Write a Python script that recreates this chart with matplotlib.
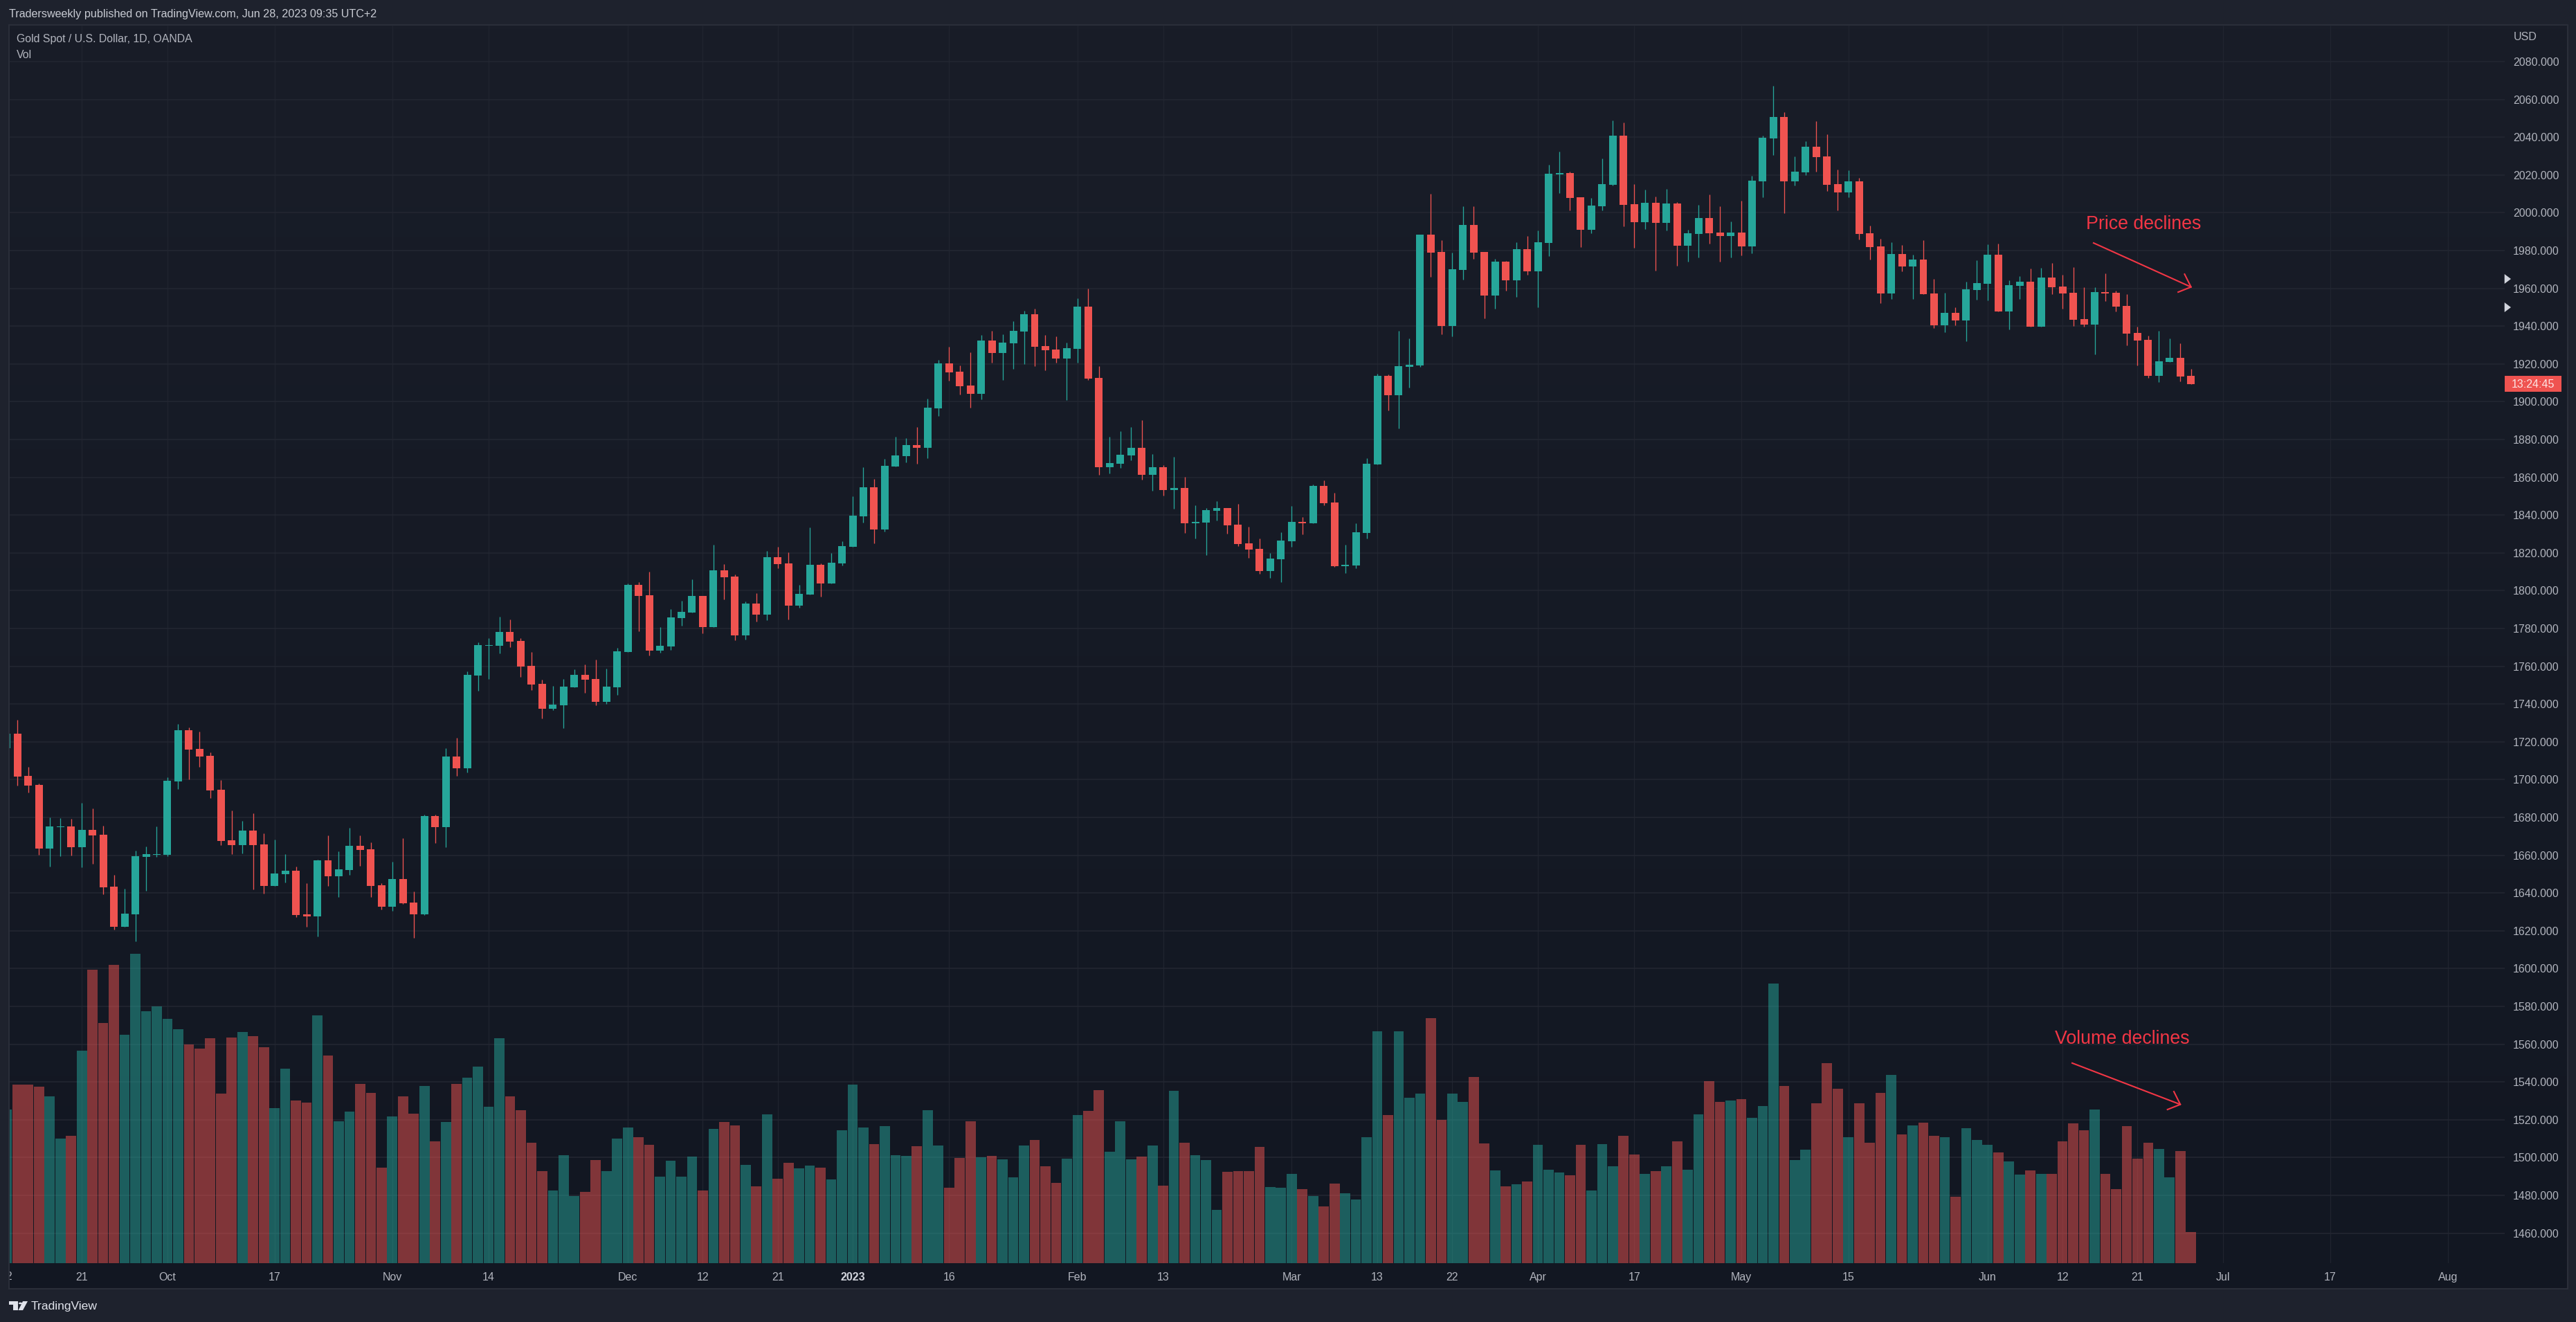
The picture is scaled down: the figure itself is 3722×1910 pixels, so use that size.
#!/usr/bin/env python3
import matplotlib
matplotlib.use('Agg')
import matplotlib.pyplot as plt
import numpy as np
from matplotlib.colors import LinearSegmentedColormap
from matplotlib.patches import Circle, Polygon, Rectangle

opens = [
    1716.6, 1724.3, 1702.0, 1697.2, 1663.5, 1674.9, 1675.2, 1664.2, 1673.4, 1670.8,
    1643.4, 1622.1, 1628.7, 1659.1, 1660.2, 1660.2, 1699.0, 1726.1, 1716.3, 1712.6,
    1694.6, 1667.9, 1665.3, 1673.0, 1665.7, 1643.7, 1650.0, 1651.8, 1628.7, 1627.6,
    1657.3, 1648.9, 1652.1, 1665.0, 1663.1, 1644.1, 1632.7, 1647.4, 1634.9, 1628.7,
    1680.7, 1674.9, 1712.2, 1706.0, 1755.0, 1770.8, 1770.8, 1778.1, 1773.3, 1760.2,
    1750.6, 1737.4, 1739.3, 1748.8, 1755.4, 1753.2, 1741.1, 1748.8, 1767.5, 1803.0,
    1797.5, 1768.2, 1770.4, 1785.4, 1788.4, 1797.2, 1780.7, 1810.7, 1807.4, 1776.3,
    1793.1, 1787.3, 1817.7, 1814.4, 1792.0, 1797.9, 1813.6, 1803.7, 1814.4, 1823.1,
    1839.3, 1854.6, 1832.3, 1865.6, 1871.1, 1877.0, 1875.5, 1896.4, 1920.2, 1915.8,
    1908.5, 1904.1, 1932.3, 1925.7, 1930.8, 1937.1, 1946.2, 1929.4, 1927.5, 1922.8,
    1927.9, 1950.2, 1912.5, 1865.3, 1867.1, 1871.5, 1875.5, 1861.2, 1865.3, 1853.2,
    1854.3, 1835.6, 1836.0, 1842.2, 1843.7, 1834.9, 1825.0, 1822.0, 1810.3, 1816.5,
    1826.1, 1836.3, 1835.6, 1855.4, 1846.6, 1812.9, 1813.3, 1830.5, 1866.7, 1913.6,
    1903.4, 1918.5, 1919.2, 1988.4, 1979.2, 1940.0, 1969.7, 1993.5, 1979.2, 1956.2,
    1974.0, 1964.2, 1980.6, 1969.0, 1983.9, 2020.1, 2020.9, 2008.1, 1991.0, 2003.4,
    2014.7, 2040.7, 2004.5, 1995.0, 2005.2, 1994.6, 2004.8, 1982.4, 1988.8, 1997.2,
    1989.5, 1987.7, 1989.5, 1982.1, 2016.5, 2039.3, 2050.6, 2016.6, 2021.3, 2034.9,
    2029.7, 2015.1, 2010.7, 2016.6, 1989.1, 1982.1, 1957.2, 1978.1, 1971.5, 1975.2,
    1957.2, 1940.4, 1947.0, 1942.9, 1959.1, 1962.3, 1977.7, 1947.7, 1961.2, 1963.4,
    1939.6, 1965.6, 1960.9, 1957.6, 1943.7, 1940.7, 1957.9, 1957.6, 1950.6, 1936.3,
    1932.7, 1913.6, 1921.0, 1923.2, 1913.6]

closes = [
    1724.3, 1701.6, 1696.8, 1663.5, 1675.2, 1675.2, 1664.2, 1673.4, 1670.5, 1643.0,
    1622.1, 1629.1, 1659.5, 1660.6, 1660.6, 1699.4, 1726.1, 1715.9, 1712.2, 1694.3,
    1667.5, 1665.3, 1673.0, 1665.3, 1643.7, 1650.3, 1651.8, 1628.3, 1627.6, 1657.3,
    1648.9, 1652.5, 1665.0, 1662.8, 1643.7, 1632.7, 1647.4, 1634.6, 1628.7, 1680.7,
    1674.9, 1712.2, 1706.0, 1755.4, 1771.1, 1771.1, 1778.1, 1773.0, 1759.8, 1750.3,
    1737.4, 1739.6, 1749.2, 1755.4, 1752.8, 1741.1, 1749.2, 1767.9, 1803.0, 1797.2,
    1768.2, 1770.8, 1785.8, 1788.7, 1797.2, 1780.7, 1810.7, 1807.0, 1776.3, 1793.1,
    1787.3, 1817.7, 1814.0, 1792.0, 1798.3, 1813.6, 1803.7, 1814.7, 1823.5, 1839.6,
    1854.6, 1832.3, 1866.0, 1871.5, 1877.0, 1875.5, 1896.8, 1920.2, 1915.5, 1908.1,
    1904.1, 1932.3, 1925.7, 1931.2, 1937.4, 1946.2, 1929.0, 1927.2, 1922.8, 1928.3,
    1950.2, 1912.2, 1865.3, 1867.5, 1871.9, 1875.5, 1861.2, 1865.3, 1853.2, 1854.3,
    1835.6, 1836.3, 1842.6, 1843.7, 1834.5, 1824.6, 1821.7, 1810.3, 1816.9, 1826.4,
    1836.3, 1835.6, 1855.4, 1846.2, 1812.9, 1813.6, 1830.8, 1867.1, 1913.6, 1903.4,
    1918.8, 1919.6, 1988.4, 1978.8, 1940.0, 1970.0, 1993.5, 1978.8, 1956.2, 1974.0,
    1964.2, 1980.6, 1969.0, 1984.3, 2020.5, 2020.9, 2007.8, 1991.0, 2003.7, 2015.0,
    2040.7, 2004.1, 1995.0, 2005.2, 1994.6, 2004.8, 1982.4, 1989.2, 1997.2, 1989.2,
    1987.7, 1989.5, 1982.1, 2016.9, 2039.6, 2050.6, 2016.6, 2021.7, 2034.9, 2029.4,
    2014.7, 2010.7, 2016.6, 1988.7, 1981.8, 1957.2, 1978.1, 1971.5, 1975.2, 1956.9,
    1940.4, 1947.0, 1942.9, 1959.4, 1962.7, 1977.7, 1947.7, 1961.6, 1963.4, 1939.6,
    1965.6, 1960.5, 1957.2, 1943.3, 1940.7, 1957.9, 1957.2, 1950.3, 1936.0, 1932.3,
    1913.6, 1921.3, 1923.2, 1913.3, 1909.2]

highs = [
    1726.0, 1731.6, 1706.7, 1697.9, 1680.0, 1679.6, 1679.3, 1687.7, 1684.7, 1675.6,
    1649.6, 1642.3, 1662.3, 1664.6, 1675.2, 1701.2, 1729.4, 1727.6, 1725.4, 1714.4,
    1699.8, 1683.6, 1678.2, 1682.2, 1671.6, 1668.3, 1660.6, 1654.0, 1645.2, 1657.6,
    1670.5, 1662.0, 1674.5, 1670.5, 1666.8, 1645.2, 1656.5, 1669.0, 1640.8, 1681.4,
    1681.4, 1716.6, 1722.1, 1757.3, 1772.6, 1774.8, 1786.2, 1784.7, 1774.8, 1767.5,
    1752.8, 1749.5, 1753.2, 1758.3, 1760.9, 1763.5, 1758.7, 1769.7, 1803.7, 1804.5,
    1810.0, 1780.7, 1790.2, 1794.6, 1806.0, 1797.2, 1824.3, 1814.0, 1808.5, 1794.2,
    1798.6, 1821.0, 1823.3, 1820.2, 1803.0, 1833.4, 1814.4, 1819.8, 1826.1, 1849.9,
    1865.3, 1859.0, 1869.7, 1881.4, 1880.7, 1886.5, 1901.5, 1922.0, 1929.0, 1919.1,
    1926.1, 1935.2, 1937.4, 1935.6, 1942.6, 1948.1, 1949.1, 1935.2, 1934.5, 1931.2,
    1954.6, 1959.8, 1918.7, 1881.4, 1884.3, 1886.5, 1890.2, 1872.2, 1866.4, 1870.8,
    1860.1, 1845.1, 1843.7, 1847.3, 1843.7, 1845.9, 1833.8, 1827.5, 1819.8, 1830.8,
    1844.8, 1838.9, 1856.1, 1858.3, 1851.7, 1824.2, 1835.6, 1870.0, 1914.7, 1914.3,
    1937.4, 1933.4, 1988.4, 2009.9, 1985.3, 1978.8, 2003.4, 2003.4, 1979.2, 1975.5,
    1974.4, 1984.3, 1987.7, 1990.6, 2025.4, 2032.4, 2021.6, 2008.1, 2007.8, 2028.7,
    2048.8, 2047.7, 2015.0, 2012.1, 2008.5, 2012.5, 2005.6, 1991.0, 2004.1, 2009.6,
    2003.4, 1995.4, 2006.3, 2019.4, 2040.7, 2067.1, 2053.2, 2029.7, 2037.8, 2048.4,
    2041.5, 2022.8, 2022.4, 2018.4, 1993.1, 1986.1, 1984.3, 1982.9, 1977.7, 1985.4,
    1964.9, 1957.6, 1949.9, 1963.4, 1974.8, 1983.2, 1983.6, 1964.2, 1966.4, 1970.4,
    1970.8, 1973.3, 1967.1, 1971.1, 1960.5, 1960.5, 1967.8, 1958.7, 1956.8, 1939.6,
    1934.9, 1937.4, 1933.4, 1930.8, 1917.3]

lows = [
    1712.0, 1696.8, 1693.2, 1660.2, 1654.0, 1659.5, 1659.8, 1653.6, 1655.4, 1639.3,
    1620.6, 1622.1, 1614.4, 1641.2, 1659.1, 1659.5, 1695.0, 1700.1, 1706.7, 1690.2,
    1665.3, 1660.6, 1660.9, 1641.9, 1639.7, 1643.7, 1645.6, 1627.2, 1622.1, 1617.0,
    1643.7, 1637.9, 1649.6, 1654.3, 1637.9, 1631.3, 1630.5, 1634.2, 1616.2, 1628.3,
    1666.4, 1664.2, 1702.0, 1703.8, 1747.0, 1753.2, 1766.8, 1770.0, 1754.3, 1747.3,
    1732.3, 1736.7, 1727.2, 1748.8, 1745.9, 1739.3, 1740.0, 1744.8, 1767.5, 1778.5,
    1765.7, 1767.1, 1768.6, 1781.4, 1788.4, 1777.4, 1780.7, 1795.3, 1773.7, 1774.1,
    1783.6, 1784.3, 1811.8, 1784.7, 1790.9, 1797.9, 1796.8, 1803.7, 1813.4, 1823.1,
    1836.0, 1825.0, 1831.2, 1865.6, 1867.8, 1867.1, 1870.0, 1892.4, 1911.1, 1903.7,
    1896.8, 1901.2, 1920.6, 1911.4, 1917.3, 1919.8, 1918.7, 1916.5, 1920.6, 1900.8,
    1920.6, 1911.4, 1861.2, 1862.0, 1864.9, 1868.9, 1858.7, 1852.8, 1850.3, 1843.3,
    1830.5, 1827.5, 1818.7, 1837.1, 1830.1, 1823.5, 1817.3, 1808.9, 1806.7, 1804.5,
    1823.1, 1829.7, 1835.6, 1845.1, 1812.5, 1809.2, 1811.9, 1827.6, 1866.7, 1895.3,
    1885.9, 1907.4, 1918.5, 1966.0, 1935.6, 1934.5, 1964.6, 1975.5, 1944.0, 1949.1,
    1958.7, 1955.5, 1967.1, 1949.8, 1977.0, 2010.3, 2001.2, 1981.7, 1989.2, 2001.2,
    2014.3, 1992.8, 1981.3, 1991.4, 1969.3, 1990.6, 1971.9, 1974.0, 1976.2, 1983.5,
    1974.0, 1976.2, 1977.3, 1978.4, 2008.1, 2030.5, 1999.7, 2014.4, 2019.9, 2021.7,
    2011.4, 2001.2, 2008.1, 1985.8, 1975.2, 1952.1, 1954.3, 1968.9, 1954.3, 1956.9,
    1938.9, 1936.7, 1940.4, 1931.9, 1953.9, 1953.6, 1947.7, 1938.2, 1954.3, 1939.6,
    1939.6, 1956.9, 1949.2, 1940.0, 1939.6, 1925.0, 1953.2, 1947.7, 1929.7, 1919.1,
    1912.5, 1910.3, 1921.0, 1910.7, 1909.2]

volumes = [
    222, 258, 258, 255, 241, 180, 184, 307, 424, 347,
    431, 330, 447, 364, 371, 353, 338, 316, 310, 325,
    245, 326, 334, 328, 312, 224, 281, 235, 232, 358,
    300, 205, 219, 259, 246, 138, 212, 241, 216, 256,
    176, 204, 259, 268, 284, 226, 325, 241, 221, 174,
    133, 105, 156, 97, 103, 149, 133, 180, 196, 182,
    171, 125, 148, 125, 154, 105, 194, 204, 199, 142,
    111, 215, 122, 145, 137, 141, 138, 121, 192, 258,
    196, 172, 198, 156, 155, 169, 221, 170, 109, 152,
    205, 153, 155, 150, 124, 170, 178, 140, 116, 151,
    214, 220, 250, 161, 205, 150, 154, 170, 112, 249,
    174, 156, 149, 77, 132, 133, 133, 168, 110, 109,
    129, 107, 97, 82, 115, 101, 92, 182, 335, 214,
    335, 239, 245, 354, 207, 245, 233, 269, 173, 134,
    111, 114, 118, 171, 135, 131, 127, 171, 105, 172,
    140, 184, 157, 129, 133, 140, 176, 135, 215, 263,
    233, 235, 237, 210, 227, 404, 256, 149, 164, 231,
    289, 252, 182, 231, 174, 246, 272, 186, 199, 203,
    184, 182, 96, 195, 178, 171, 160, 147, 128, 134,
    129, 129, 176, 202, 192, 222, 129, 107, 198, 151,
    174, 165, 124, 162, 45]

price_ticks = list(range(1460, 2081, 20))
tick_bars = [7, 15, 25, 36, 45, 58, 65, 72, 79, 88, 100, 108, 120, 128, 135,
             143, 152, 162, 172, 185, 192, 199, 207, 217, 228]
tick_labels = ['21', 'Oct', '17', 'Nov', '14', 'Dec', '12', '21', '2023', '16',
               'Feb', '13', 'Mar', '13', '22', 'Apr', '17', 'May', '15', 'Jun',
               '12', '21', 'Jul', '17', 'Aug']

W, H = 3723, 1910
UP, DOWN = '#26a69a', '#ef5350'
FRAME = '#1e222d'
GRID = '#232732'
TEXT = '#b2b5be'
RED = '#f23645'
FONT = 'Liberation Sans'


def fp(x, y):
    # pixel position in the picture to figure fraction
    return x / W, 1 - y / H


def fig_poly(points, **kw):
    fig.add_artist(Polygon([fp(*p) for p in points], closed=True,
                           transform=fig.transFigure, **kw))


def fig_text(x, y, s, **kw):
    fx, fy = fp(x, y)
    fig.text(fx, fy, s, family=FONT, va='center', **kw)


plt.rcParams['font.family'] = FONT
fig = plt.figure(figsize=(W / 100, H / 100), dpi=100, facecolor=FRAME)

# pane background with its slight vertical gradient
ax_bg = fig.add_axes([13 / W, 1 - 1862 / H, (3710 - 13) / W, (1862 - 36) / H], zorder=0)
cmap = LinearSegmentedColormap.from_list('pane', ['#191d28', '#121722'])
ax_bg.imshow(np.linspace(0, 1, 256).reshape(-1, 1), aspect='auto', cmap=cmap)
ax_bg.axis('off')

rect = [13 / W, 1 - 1825 / H, (3618.7 - 13) / W, (1825 - 36) / H]
ax = fig.add_axes(rect, zorder=1)
ax.patch.set_visible(False)
ax_vol = fig.add_axes(rect, zorder=2, sharex=ax)
ax_vol.patch.set_visible(False)

x = np.arange(len(opens))
o, c, hi, lo = map(np.array, (opens, closes, highs, lows))
colors = np.where(c >= o, UP, DOWN)

ax.vlines(x, lo, hi, colors=colors, linewidth=0.95, zorder=3)
ax.bar(x, np.abs(c - o), bottom=np.minimum(o, c), width=0.71, color=colors, zorder=4)

ax_vol.bar(x, volumes, width=0.95, color=colors, alpha=0.5, linewidth=0)
ax_vol.set_ylim(0, 1789)
ax_vol.axis('off')

ax.set_xlim(0.2, 233.28)
ax.set_ylim(1444.1, 2099.4)

ax.set_yticks(price_ticks)
ax.set_yticklabels(['%.3f' % p for p in price_ticks])
ax.yaxis.tick_right()
ax.set_xticks(tick_bars)
ax.set_xticklabels(tick_labels)
ax.tick_params(axis='y', length=0, pad=9, labelsize=11.5, labelcolor=TEXT)
ax.tick_params(axis='x', length=0, pad=9, labelsize=11.5, labelcolor=TEXT)
for lab in ax.get_xticklabels():
    if lab.get_text() == '2023':
        lab.set_fontweight('bold')
        lab.set_color('#d1d4dc')
ax.yaxis.grid(True, color=GRID, linewidth=1.1, zorder=0)
ax.xaxis.grid(True, color='#20242f', linewidth=0.9, zorder=0)
ax.set_axisbelow(True)
for sp in ax.spines.values():
    sp.set_visible(False)

# the first date label is cut by the pane edge
ax.text(0, -19 / 1789, '12', transform=ax.get_xaxis_transform(), ha='center', va='center',
        fontsize=11.5, color=TEXT, clip_on=False)

# drawings
ax.text(199.6, 1993.9, 'Price declines', color=RED, fontsize=19.3, ha='center', va='center')
ax.plot([194.9, 204.0], [1984.0, 1960.7], color=RED, lw=1.5, zorder=5)
ax.plot([203.4, 204.0, 202.8], [1967.5, 1960.7, 1958.0], color=RED, lw=1.5, zorder=5)
ax.text(197.6, 1562.9, 'Volume declines', color=RED, fontsize=19.3, ha='center', va='center')
ax.plot([192.9, 203.0], [1550.0, 1528.1], color=RED, lw=1.5, zorder=5)
ax.plot([202.4, 203.0, 201.8], [1534.9, 1528.1, 1525.4], color=RED, lw=1.5, zorder=5)

# left strip and pane border
strip_x, strip_y = fp(0, 1910)
fig.add_artist(Rectangle((strip_x, strip_y), 13 / W, 1, transform=fig.transFigure,
                         facecolor=FRAME, edgecolor='none', zorder=10))
fig.add_artist(Rectangle(fp(13, 1862), (3710 - 13) / W, (1862 - 36) / H, transform=fig.transFigure,
                         facecolor='none', edgecolor='#2a2e39', linewidth=1.5, zorder=11))

# price scale extras
fig_poly([(3618.7, 396), (3618.7, 410), (3628, 403)], facecolor='#d1d4dc', edgecolor='none', zorder=12)
fig_poly([(3618.7, 437), (3618.7, 451), (3628, 444)], facecolor='#d1d4dc', edgecolor='none', zorder=12)
tag_x, tag_y = fp(3618.7, 565.7)
fig.add_artist(Rectangle((tag_x, tag_y), 82.3 / W, 22.4 / H, transform=fig.transFigure,
                         facecolor=DOWN, edgecolor='none', zorder=12))
fig_text(3660, 555, '13:24:45', ha='center', fontsize=11.5, color='#fde4e3', zorder=13)
fig_text(3632, 54, 'USD', ha='left', fontsize=11.5, color=TEXT)

# header and legend
fig_text(13, 21, 'Tradersweekly published on TradingView.com, Jun 28, 2023 09:35 UTC+2',
         ha='left', fontsize=11.6, color='#c8cbd3')
fig_text(24, 57, 'Gold Spot / U.S. Dollar, 1D, OANDA', ha='left', fontsize=11.4, color=TEXT)
fig_text(24, 80, 'Vol', ha='left', fontsize=11.4, color=TEXT)

# footer logo and name
logo = '#e0e3eb'
fig_poly([(13, 1880), (26, 1880), (26, 1893), (19, 1893), (19, 1885), (13, 1885)],
         facecolor=logo, edgecolor='none')
fig_poly([(33, 1880), (40, 1880), (33, 1893), (26.5, 1893)], facecolor=logo, edgecolor='none')
fig.add_artist(Circle(fp(29.5, 1883), 2.6 / W, transform=fig.transFigure, facecolor=logo, edgecolor='none'))
fig_text(45, 1887, 'TradingView', ha='left', fontsize=12.6, color=logo)

fig.savefig('out.png', dpi=100, facecolor=FRAME)
